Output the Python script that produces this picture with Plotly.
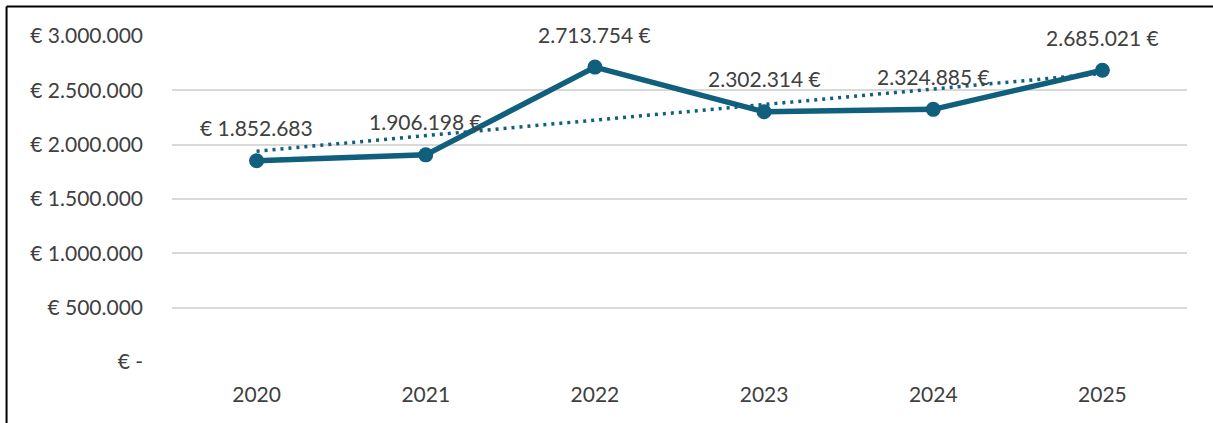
import plotly.graph_objects as go
import numpy as np

years = ["2020", "2021", "2022", "2023", "2024", "2025"]
values = [1852683, 1906198, 2713754, 2302314, 2324885, 2685021]
labels = ["€ 1.852.683", "1.906.198 €", "2.713.754 €", "2.302.314 €", "2.324.885 €", "2.685.021 €"]
ytick_vals = [0, 500000, 1000000, 1500000, 2000000, 2500000, 3000000]
ytick_text = ["€ -", "€ 500.000", "€ 1.000.000", "€ 1.500.000", "€ 2.000.000", "€ 2.500.000", "€ 3.000.000"]

LINE = "#0F5F7D"
TEXT = "#404040"
FONT = "Lato"
FS = 21

idx = np.arange(len(values))
slope, intercept = np.polyfit(idx, values, 1)
trend = slope * idx + intercept

fig = go.Figure()
fig.add_trace(go.Scatter(x=years, y=trend, mode="lines",
                         line=dict(color=LINE, width=3.5, dash="3px,5px"),
                         hoverinfo="skip", showlegend=False))
fig.add_trace(go.Scatter(x=years, y=values, mode="lines+markers",
                         line=dict(color=LINE, width=5.5),
                         marker=dict(color=LINE, size=15),
                         showlegend=False))

# category axes: annotation x uses category index
for i, (v, t) in enumerate(zip(values, labels)):
    fig.add_annotation(x=i, y=v, text=t, showarrow=False, yshift=33,
                       font=dict(family=FONT, size=FS, color=TEXT))

fig.add_shape(type="line", xref="paper", yref="paper", x0=-0.163, x1=-0.163, y0=-0.3, y1=1.0905,
              line=dict(color="black", width=2))
fig.add_shape(type="line", xref="paper", yref="paper", x0=-0.163, x1=1.1, y0=1.0905, y1=1.0905,
              line=dict(color="black", width=2))

fig.update_layout(
    width=1213, height=423,
    margin=dict(l=172, r=26, t=36, b=61),
    paper_bgcolor="white", plot_bgcolor="white",
    font=dict(family=FONT, size=FS, color=TEXT),
    xaxis=dict(type="category", range=[-0.5, 5.5], showgrid=False, showline=False,
               zeroline=False, ticks="", ticklabelstandoff=18,
               tickfont=dict(family=FONT, size=FS, color=TEXT)),
    yaxis=dict(range=[0, 3000000], tickvals=ytick_vals, ticktext=ytick_text,
               showgrid=True, gridcolor="#D9D9D9", gridwidth=2, zeroline=False,
               showline=False, ticks="", ticklabelstandoff=28,
               tickfont=dict(family=FONT, size=FS, color=TEXT)),
)

fig.write_html("out.html", config={"displayModeBar": False},
               post_script="document.body.style.margin='0';")
